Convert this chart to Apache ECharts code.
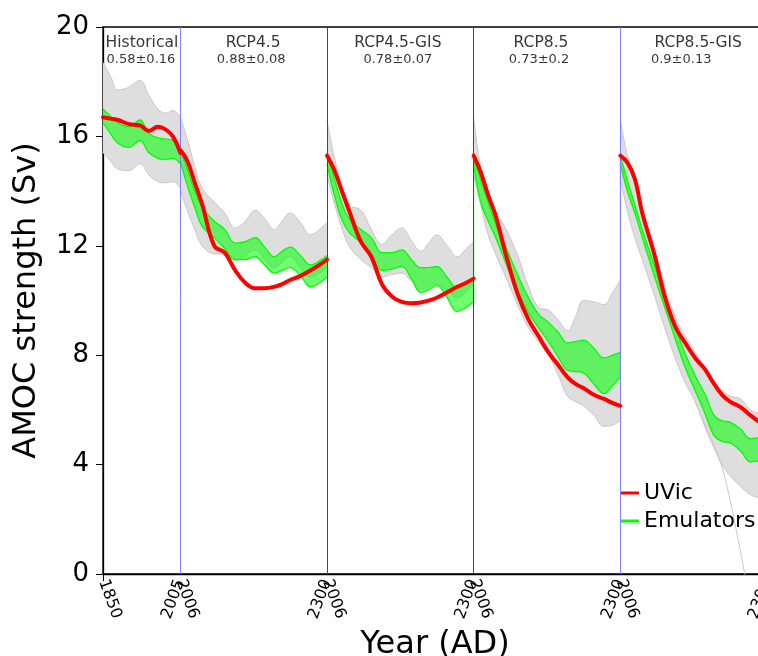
<!DOCTYPE html>
<html>
<head>
<meta charset="utf-8">
<script src="https://cdn.jsdelivr.net/npm/echarts@6/dist/echarts.min.js"></script>
<style>
  html, body { margin: 0; background: #fff; }
  #chart { width: 758px; height: 656px; }
</style>
</head>
<body>
<div id="chart"></div>
<script>
// panels along the joined time axis
const panelNames = ['Historical', 'RCP4.5', 'RCP4.5-GIS', 'RCP8.5', 'RCP8.5-GIS']
const panelScores = ['0.58±0.16', '0.88±0.08', '0.78±0.07', '0.73±0.2', '0.9±0.13']
const startTickLabels = ['1850', '2006', '2006', '2006', '2006']
const endTickLabels = ['2005', '2300', '2300', '2300', '2300']

const histYears = [1850, 1865, 1880, 1902, 1924, 1942, 1960, 1976, 1990, 2005]
const rcpYears = [2006, 2020, 2035, 2050, 2074, 2095, 2116, 2136, 2156, 2175, 2194, 2210, 2226, 2247, 2267, 2285, 2300]

// Historical
const uvicHist = [16.7, 16.65, 16.6, 16.45, 16.4, 16.2, 16.35, 16.25, 16.0, 15.4]
const emuHiHist = [17.0, 16.75, 16.5, 16.35, 16.6, 16.1, 15.95, 15.9, 15.85, 15.6]
const emuLoHist = [16.5, 16.1, 15.75, 15.6, 15.85, 15.4, 15.2, 15.15, 15.2, 15.0]
const ensHiHist = [18.7, 18.2, 17.7, 17.8, 18.05, 17.5, 17.0, 16.85, 16.95, 16.7]
const ensLoHist = [15.4, 15.1, 14.8, 14.75, 15.0, 14.6, 14.35, 14.3, 14.35, 14.1]

// RCP4.5
const uvic45 = [15.5, 15.1, 14.3, 13.5, 12.0, 11.75, 11.1, 10.65, 10.45, 10.45, 10.5, 10.6, 10.75, 10.9, 11.1, 11.3, 11.5]
const emuHi45 = [15.5, 14.8, 14.0, 13.4, 12.9, 12.6, 12.1, 12.15, 12.3, 11.95, 11.6, 11.8, 11.95, 11.65, 11.3, 11.45, 11.65]
const emuLo45 = [15.1, 14.2, 13.4, 12.7, 12.3, 11.9, 11.5, 11.5, 11.6, 11.3, 11.0, 11.1, 11.2, 10.9, 10.5, 10.65, 10.85]
const ensHi45 = [16.7, 15.9, 14.9, 14.1, 13.6, 13.2, 12.65, 12.9, 13.3, 13.0, 12.6, 12.9, 13.2, 12.85, 12.4, 12.6, 12.85]
const ensLo45 = [14.0, 13.3, 12.6, 12.0, 11.7, 11.7, 11.45, 11.65, 11.85, 11.5, 11.2, 11.4, 11.6, 11.2, 10.85, 11.0, 11.2]

// RCP4.5-GIS
const uvicG45 = [15.3, 14.8, 14.05, 13.3, 12.15, 11.6, 10.6, 10.15, 9.95, 9.9, 9.93, 10.0, 10.1, 10.3, 10.5, 10.65, 10.8]
const emuHiG45 = [15.3, 14.5, 13.6, 13.0, 12.6, 12.3, 11.75, 11.75, 11.85, 11.5, 11.2, 11.2, 11.25, 10.85, 10.45, 10.6, 10.8]
const emuLoG45 = [15.0, 13.9, 13.0, 12.5, 12.1, 11.6, 11.1, 11.15, 11.25, 10.8, 10.3, 10.4, 10.55, 10.1, 9.6, 9.75, 9.95]
const ensHiG45 = [16.6, 15.3, 14.2, 13.5, 13.3, 12.6, 12.05, 12.4, 12.65, 12.2, 11.8, 12.1, 12.4, 12.0, 11.6, 11.9, 12.15]
const ensLoG45 = [14.6, 13.6, 12.7, 12.0, 11.5, 11.2, 10.85, 10.95, 11.0, 10.7, 10.4, 10.5, 10.6, 10.35, 10.1, 10.3, 10.6]

// RCP8.5
const uvic85 = [15.3, 14.7, 13.85, 13.1, 11.45, 10.2, 9.3, 8.7, 8.1, 7.65, 7.2, 6.95, 6.8, 6.55, 6.4, 6.25, 6.15]
const emuHi85 = [15.3, 14.4, 13.6, 12.8, 11.8, 10.9, 10.1, 9.5, 9.2, 8.85, 8.45, 8.5, 8.55, 8.25, 7.9, 8.0, 8.1]
const emuLo85 = [15.0, 13.6, 12.9, 12.3, 11.2, 10.3, 9.55, 9.0, 8.5, 7.95, 7.45, 7.4, 7.35, 6.95, 6.6, 6.9, 7.2]
const ensHi85 = [16.7, 14.9, 14.0, 13.3, 12.5, 11.6, 10.5, 9.75, 9.65, 9.3, 8.9, 9.4, 10.0, 9.95, 9.85, 10.3, 10.75]
const ensLo85 = [14.6, 13.5, 12.4, 11.7, 10.7, 9.8, 9.0, 8.5, 8.0, 7.3, 6.5, 6.3, 6.15, 5.8, 5.4, 5.45, 5.6]

// RCP8.5-GIS
const uvicG85 = [15.3, 15.05, 14.45, 13.2, 11.7, 10.15, 9.05, 8.45, 7.9, 7.5, 6.95, 6.55, 6.3, 6.1, 5.8, 5.55, 5.35]
const emuHiG85 = [15.3, 14.4, 13.5, 12.6, 11.3, 10.2, 9.05, 8.05, 7.25, 6.6, 5.8, 5.6, 5.55, 5.3, 4.95, 5.0, 5.1]
const emuLoG85 = [15.0, 14.0, 13.2, 12.3, 10.9, 9.75, 8.6, 7.55, 6.7, 5.9, 5.05, 4.85, 4.8, 4.5, 4.1, 4.15, 4.2]
const ensHiG85 = [16.6, 15.3, 14.3, 13.2, 11.9, 10.5, 9.4, 8.7, 8.1, 7.6, 7.0, 6.7, 6.5, 6.4, 6.0, 5.9, 5.95]
const ensLoG85 = [14.4, 13.3, 12.3, 11.5, 10.2, 9.0, 7.9, 7.0, 6.3, 5.4, 4.6, 4.0, 3.6, 3.2, 2.9, 2.8, 2.8]
// lowest ensemble member that collapses
const outlierYears = [2156, 2175, 2194, 2210, 2226, 2247, 2267]
const outlierG85 = [6.3, 5.5, 4.7, 3.9, 2.7, 0.8, -1.1]

const panels = [
  { years: histYears, uvic: uvicHist, emuHi: emuHiHist, emuLo: emuLoHist, ensHi: ensHiHist, ensLo: ensLoHist },
  { years: rcpYears, uvic: uvic45, emuHi: emuHi45, emuLo: emuLo45, ensHi: ensHi45, ensLo: ensLo45 },
  { years: rcpYears, uvic: uvicG45, emuHi: emuHiG45, emuLo: emuLoG45, ensHi: ensHiG45, ensLo: ensLoG45 },
  { years: rcpYears, uvic: uvic85, emuHi: emuHi85, emuLo: emuLo85, ensHi: ensHi85, ensLo: ensLo85 },
  { years: rcpYears, uvic: uvicG85, emuHi: emuHiG85, emuLo: emuLoG85, ensHi: ensHiG85, ensLo: ensLoG85 }
]

// where each panel starts on the joined axis (in years)
const histSpan = histYears[histYears.length - 1] - histYears[0]
const rcpSpan = rcpYears[rcpYears.length - 1] - rcpYears[0]
const panelStart = panels.map((_, i) => i === 0 ? 0 : histSpan + (i - 1) * rcpSpan)
const axisMax = histSpan + (panels.length - 1) * rcpSpan
const toX = (i, year) => panelStart[i] + year - panels[i].years[0]

const FONT = 'DejaVu Sans'
const GREY = '#c8c8c8'
const LIME = '#00ff00'
const RED = '#ff0000'

const series = []

panels.forEach((p, i) => {
  const pts = arr => arr.map((v, k) => [toX(i, p.years[k]), v])
  // value first so the stack runs on y, x read through encode
  const lowPts = arr => arr.map((v, k) => [v, toX(i, p.years[k])])
  const diff = (hi, lo) => hi.map((v, k) => [v - lo[k], toX(i, p.years[k])])
  const common = { type: 'line', showSymbol: false, symbol: 'none', smooth: 0.4, silent: true, xAxisIndex: 0 }
  const stacked = { ...common, encode: { x: 1, y: 0 } }

  series.push({ ...stacked, name: 'ens' + i, stack: 'ens' + i, data: lowPts(p.ensLo), lineStyle: { color: GREY, width: 1 }, z: 1 })
  series.push({ ...stacked, name: 'ensband' + i, stack: 'ens' + i, data: diff(p.ensHi, p.ensLo), lineStyle: { color: GREY, width: 1 }, areaStyle: { color: '#dedede', opacity: 1 }, z: 1 })
  series.push({ ...stacked, name: 'emu' + i, stack: 'emu' + i, data: lowPts(p.emuLo), lineStyle: { color: LIME, width: 1.3 }, z: 3 })
  series.push({ ...stacked, name: 'Emulators', stack: 'emu' + i, data: diff(p.emuHi, p.emuLo), lineStyle: { color: LIME, width: 1.3 }, areaStyle: { color: LIME, opacity: 0.56 }, itemStyle: { color: LIME }, z: 3 })
  series.push({ ...common, name: 'UVic', data: pts(p.uvic), lineStyle: { color: RED, width: 4, cap: 'round' }, itemStyle: { color: RED }, z: 5 })
})

series.push({
  type: 'line', name: 'outlier', showSymbol: false, symbol: 'none', smooth: 0.4, silent: true,
  data: outlierYears.map((y, k) => [toX(4, y), outlierG85[k]]),
  lineStyle: { color: GREY, width: 1 }, z: 1
})

// emulator lines jump at the start of the RCP8.5 panels
;[3, 4].forEach(i => {
  const prev = panels[i - 1]
  const last = prev.emuLo.length - 1
  series.push({
    type: 'line', name: 'jump' + i, showSymbol: false, symbol: 'none', silent: true,
    data: [[panelStart[i], prev.emuLo[last]], [panelStart[i], panels[i].emuHi[0]]],
    lineStyle: { color: LIME, width: 1 }, z: 2
  })
})

// panel separators: outer two pale, middle two stronger blue
const sepGroups = [
  { xs: [panelStart[1], panelStart[4]], color: '#8080ff' },
  { xs: [panelStart[2], panelStart[3]], color: '#2f2fff' }
]
sepGroups.forEach((g, k) => {
  series.push({
    type: 'line', name: 'sep' + k, data: [], silent: true, z: 4, itemStyle: { color: g.color },
    markLine: {
      silent: true, symbol: 'none', label: { show: false },
      lineStyle: { color: g.color, width: 1, type: 'solid', opacity: 1 },
      emphasis: { disabled: true },
      data: g.xs.map(x => ({ xAxis: x }))
    }
  })
})

// panel titles and skill scores
const titleX = [78, 301, 591, 878, 1193]
const scoreX = [76, 297, 591, 874, 1159]
series.push({
  type: 'scatter', name: 'titles', symbolSize: 0, silent: true, z: 6,
  data: panelNames.map((n, i) => ({ value: [titleX[i], 19.4], label: { formatter: n } })),
  label: { show: true, position: 'inside', color: '#000', fontFamily: FONT, fontSize: 15.5 }
})
series.push({
  type: 'scatter', name: 'scores', symbolSize: 0, silent: true, z: 6,
  data: panelScores.map((n, i) => ({ value: [scoreX[i], 18.8], label: { formatter: n } })),
  label: { show: true, position: 'inside', color: '#000', fontFamily: FONT, fontSize: 13 }
})

const startTicks = panelStart.slice()
const endTicks = panelStart.slice(1).concat([axisMax])

const chart = echarts.init(document.getElementById('chart'))
chart.setOption({
  animation: false,
  backgroundColor: '#fff',
  textStyle: { fontFamily: FONT },
  grid: { left: 103, right: -9, top: 27, bottom: 82, show: true, borderColor: '#000', borderWidth: 1.3, containLabel: false, outerBoundsMode: 'none' },
  legend: {
    orient: 'vertical', left: 621, top: 482, padding: 0, itemGap: 6,
    itemWidth: 18, itemHeight: 3, selectedMode: false,
    textStyle: { fontFamily: FONT, fontSize: 22, color: '#000' },
    data: [
      { name: 'UVic', icon: 'rect', itemStyle: { color: RED } },
      { name: 'Emulators', icon: 'rect', itemStyle: { color: LIME } }
    ]
  },
  xAxis: [
    {
      type: 'value', min: 0, max: axisMax, position: 'bottom',
      name: 'Year (AD)', nameLocation: 'middle', nameGap: 45,
      nameTextStyle: { fontFamily: FONT, fontSize: 32, color: '#000' },
      axisLine: { lineStyle: { color: '#000', width: 1.3 } },
      axisTick: { show: true, customValues: [0], length: 7, lineStyle: { color: '#000' } },
      splitLine: { show: false },
      axisLabel: {
        customValues: startTicks, rotate: -70, margin: 6, fontFamily: FONT, fontSize: 16, color: '#000',
        formatter: v => startTickLabels[startTicks.indexOf(v)]
      }
    },
    {
      type: 'value', min: 0, max: axisMax, position: 'bottom',
      axisLine: { show: false }, axisTick: { show: false }, splitLine: { show: false },
      axisLabel: {
        customValues: endTicks, rotate: 70, margin: 6, fontFamily: FONT, fontSize: 16, color: '#000',
        formatter: v => endTickLabels[endTicks.indexOf(v)]
      }
    }
  ],
  yAxis: {
    type: 'value', min: 0, max: 20, interval: 4,
    name: 'AMOC strength (Sv)', nameLocation: 'middle', nameGap: 60,
    nameTextStyle: { fontFamily: FONT, fontSize: 32, color: '#000' },
    axisLine: { show: true, lineStyle: { color: '#000', width: 1.3 } },
    axisTick: { show: true, length: 7, lineStyle: { color: '#000' } },
    splitLine: { show: false },
    axisLabel: { fontFamily: FONT, fontSize: 26, color: '#000', margin: 14 }
  },
  series: series
})
</script>
</body>
</html>
